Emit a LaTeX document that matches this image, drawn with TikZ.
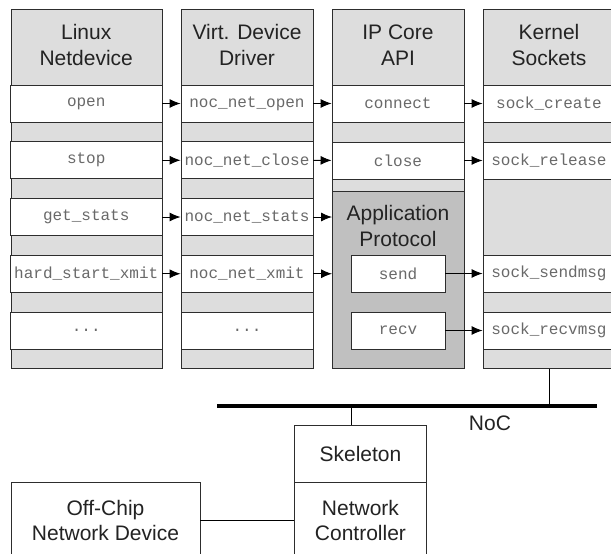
\documentclass[tikz,border=0pt]{standalone}
\usepackage{fontspec}
\setmainfont{Liberation Sans}
\setmonofont{Liberation Mono}
\usepackage{tikz}
\usetikzlibrary{arrows.meta,positioning}

\definecolor{hdrgray}{RGB}{221,221,221}
\definecolor{appgray}{RGB}{192,192,192}
\definecolor{linegray}{RGB}{45,45,45}
\definecolor{txtgray}{RGB}{35,35,35}
\definecolor{codegray}{RGB}{105,105,105}
\newcommand{\threedots}{...}

\begin{document}
\begin{tikzpicture}[
    % 以像素為單位 (y 向下)
    x=1pt, y=-1pt,
    % 欄位底框樣式
    colbox/.style={
        rectangle,
        draw=linegray,
        fill=hdrgray,
        line width=0.9pt,
        minimum width=#1,
        minimum height=359,
        anchor=north west,
        inner sep=0pt
    },
    % 欄位標題文字
    hdr/.style={
        align=center,
        text=txtgray,
        font=\fontsize{21}{25.5}\selectfont
    },
    % 函式方塊樣式
    fnbox/.style={
        rectangle,
        draw=linegray,
        fill=white,
        line width=0.9pt,
        minimum width=#1,
        minimum height=37,
        inner sep=0pt,
        text=codegray,
        font=\ttfamily\fontsize{16}{18}\selectfont
    },
    % 一般方塊樣式
    plainbox/.style={
        rectangle,
        draw=linegray,
        fill=white,
        line width=0.9pt,
        anchor=north west,
        inner sep=0pt,
        align=center,
        text=txtgray,
        font=\fontsize{21}{25.5}\selectfont
    },
    % 箭頭與連線
    arr/.style={-{Latex[length=11pt,width=9pt]}, line width=0.9pt},
    wire/.style={line width=1pt},
    bus/.style={line width=3.5pt}
]

\useasboundingbox (0,0) rectangle (611,554);
\clip (0,0) rectangle (611,554);

% --- 四個欄位 ---
\node[colbox=151.5] (lnx) at (10.5,9) {};
\node[colbox=132] (vdd) at (181,9) {};
\node[colbox=132] (ipc) at (332,9) {};
\node[colbox=132] (ksk) at (483,9) {};

\node[hdr] at (86.25,45) {Linux\\Netdevice};
\node[hdr] at (247,45) {Virt. Device\\Driver};
\node[hdr] at (398,45) {IP Core\\API};
\node[hdr] at (549,45) {Kernel\\Sockets};

% --- Linux Netdevice 與 Virt. Device Driver 的函式 ---
\foreach \i/\fn in {1/open,2/stop,3/get\_stats,4/hard\_start\_xmit,5/\threedots}
    \node[fnbox=151.5] (lnx\i) at (86.25,{103.5+56.75*(\i-1)}) {\fn};
\foreach \i/\fn in {1/noc\_net\_open,2/noc\_net\_close,3/noc\_net\_stats,4/noc\_net\_xmit,5/\threedots}
    \node[fnbox=132] (vdd\i) at (247,{103.5+56.75*(\i-1)}) {\fn};

% --- IP Core API ---
\node[fnbox=132] (ipc1) at (398,103.5) {connect};
\node[fnbox=132] (ipc2) at (398,160.5) {close};
\node[colbox=132, fill=appgray, minimum height=177] (app) at (332,191) {};
\node[hdr] at (398,226) {Application\\Protocol};
\node[fnbox=94] (send) at (398,273.5) {send};
\node[fnbox=94] (recv) at (398,330.5) {recv};

% --- Kernel Sockets ---
\node[fnbox=132] (ksk1) at (549,103.5) {sock\_create};
\node[fnbox=132] (ksk2) at (549,160.5) {sock\_release};
\node[fnbox=132] (ksk4) at (549,273.5) {sock\_sendmsg};
\node[fnbox=132] (ksk5) at (549,330.5) {sock\_recvmsg};

% --- 呼叫箭頭 ---
\foreach \i in {1,...,4}
    \draw[arr] (lnx\i) -- (vdd\i);
\draw[arr] (vdd1) -- (ipc1);
\draw[arr] (vdd2) -- (ipc2);
\draw[arr] (vdd3.east) -- (vdd3 -| app.west);
\draw[arr] (vdd4.east) -- (vdd4 -| app.west);
\draw[arr] (ipc1) -- (ksk1);
\draw[arr] (ipc2) -- (ksk2);
\draw[arr] (send) -- (ksk4);
\draw[arr] (recv) -- (ksk5);

% --- NoC 匯流排 ---
\coordinate (busL) at (217,406);
\coordinate (busR) at (597,406);
\coordinate (tap) at (351,406);
\draw[bus] (busL) -- (busR);
\node[text=txtgray, font=\fontsize{21}{25.5}\selectfont] (noc) at (490,423) {NoC};
\draw[wire] (ksk.south) -- (ksk.south |- busL);

% --- 網路控制器與外部裝置 ---
\node[plainbox, minimum width=132, minimum height=57] (skel) at (294,425) {Skeleton};
\node[plainbox, minimum width=132, minimum height=76] (nc) at (294,482) {Network\\Controller};
\node[plainbox, minimum width=189, minimum height=76] (off) at (10.5,482) {Off-Chip\\Network Device};
\draw[wire] (tap) -- (tap |- skel.north);
\draw[wire] (off) -- (nc);

\end{tikzpicture}
\end{document}
